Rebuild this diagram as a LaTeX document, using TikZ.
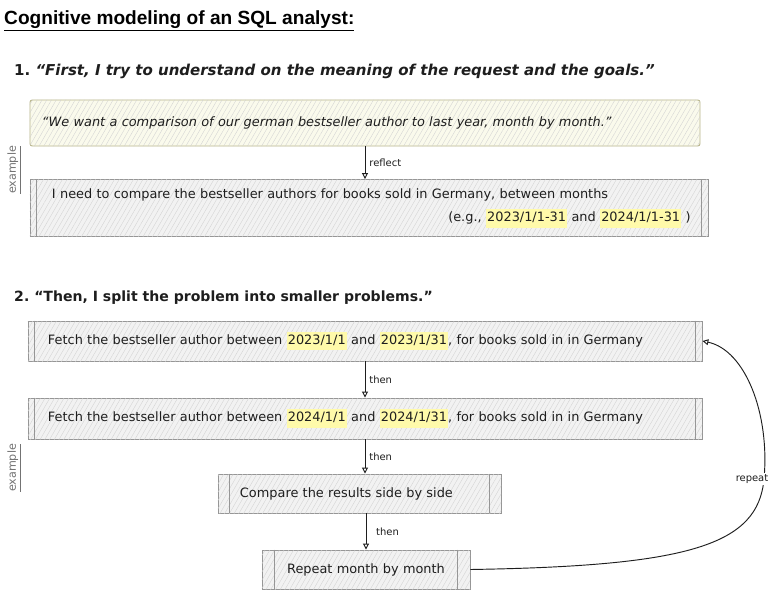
\documentclass[tikz,border=0pt]{standalone}
\usepackage{fontspec}
\setmainfont{DejaVu Sans}
\newfontfamily\titlefont{Liberation Sans}
\usetikzlibrary{positioning,calc,arrows.meta,patterns.meta}
\definecolor{boxgray}{RGB}{242,242,242}
\definecolor{boxcream}{RGB}{250,250,236}
\definecolor{hlyellow}{RGB}{255,250,170}
\definecolor{inkgray}{RGB}{30,30,30}
\definecolor{framegray}{RGB}{150,150,150}
\definecolor{quoteframe}{RGB}{185,182,140}
\newcommand{\hlt}[1]{{\setlength{\fboxsep}{1pt}\colorbox{hlyellow}{\strut #1}}}
\tikzset{
  sketchbox/.style={rectangle, draw=framegray, line width=0.8pt, fill=boxgray, text=inkgray, align=left,
    font=\fontsize{11}{14}\selectfont,
    postaction={pattern={Lines[angle=60,distance=3.5pt,line width=0.3pt]}, pattern color=gray!35}},
  quotebox/.style={sketchbox, draw=quoteframe, fill=boxcream, rounded corners=2pt},
  innerline/.style={draw=framegray, line width=0.6pt},
  arrow/.style={draw=inkgray, line width=0.8pt, -{Triangle[open,length=5pt,width=5pt]}},
  steplabel/.style={font=\fontsize{8.5}{10}\selectfont, text=inkgray},
  sidelabel/.style={rotate=90, font=\fontsize{9.5}{11}\selectfont, text=gray!90!black},
  heading/.style={anchor=west, inner sep=0pt, font=\bfseries\fontsize{12}{14}\selectfont, text=inkgray}
}
\begin{document}
\begin{tikzpicture}[x=0.03cm, y=-0.03cm]
\useasboundingbox (0,0) rectangle (782,591);
\fill[white] (0,0) rectangle (782,591);
% title and step 1
\node (title) at (4,21) [anchor=west, inner sep=0pt, text=black,
  font=\titlefont\bfseries\fontsize{16.3}{19}\selectfont] {\underline{Cognitive modeling of an SQL analyst:}};
\node (h1) at (14,71) [heading, font=\bfseries\fontsize{12.8}{15}\selectfont]
  {1.~\textit{“First, I try to understand on the meaning of the request and the goals.”}};
\node (b1) at (365,123) [quotebox, minimum width=20.1cm, minimum height=1.38cm, text width=19.38cm, inner xsep=0.36cm]
  {\textit{“We want a comparison of our german bestseller author to last year, month by month.”}};
\node (b2) at (369,208) [sketchbox, minimum width=20.34cm, minimum height=1.71cm, text width=19.02cm, inner xsep=0.66cm]
  {I need to compare the bestseller authors for books sold in Germany, between months\\[6pt]
   \hspace*{\fill}(e.g., \hlt{2023/1/1-31} and \hlt{2024/1/1-31} )\hspace*{-4pt}};
\draw[arrow] (b1.south) -- (b1.south |- b2.north) node[midway, right, steplabel] {reflect};
\node (ex1) at (14,170) [sidelabel] {\underline{example}};
% step 2
\node (h2) at (14,298) [heading] {2.~“Then, I split the problem into smaller problems.”};
\node (b3) at (365,341) [sketchbox, minimum width=20.22cm, minimum height=1.2cm, text width=19.02cm, inner xsep=0.6cm]
  {Fetch the bestseller author between \hlt{2023/1/1} and \hlt{2023/1/31}, for books sold in in Germany};
\node (b4) at (365,418.5) [sketchbox, minimum width=20.22cm, minimum height=1.23cm, text width=19.02cm, inner xsep=0.6cm]
  {Fetch the bestseller author between \hlt{2024/1/1} and \hlt{2024/1/31}, for books sold in in Germany};
\node (b5) at (359.5,493.5) [sketchbox, minimum width=8.49cm, minimum height=1.17cm, text width=7.17cm, inner xsep=0.66cm]
  {Compare the results side by side};
\node (b6) at (366,569.5) [sketchbox, minimum width=6.24cm, minimum height=1.17cm, text width=5.04cm, inner xsep=0.6cm, align=center]
  {Repeat month by month};
\node (ex2) at (14,468) [sidelabel] {\underline{example}};
\foreach \n/\d in {b2/7,b3/7,b4/7,b5/12,b6/13}{
  \draw[innerline] ([xshift=\d*0.03cm]\n.north west) -- ([xshift=\d*0.03cm]\n.south west);
  \draw[innerline] ([xshift=-\d*0.03cm]\n.north east) -- ([xshift=-\d*0.03cm]\n.south east);
}
\draw[arrow] (b3.south) -- (b3.south |- b4.north) node[midway, right, steplabel] {then};
\draw[arrow] (b4.south) -- (b4.south |- b5.north) node[midway, right, steplabel] {then};
\draw[arrow] (b6.north |- b5.south) -- (b6.north) node[midway, right, xshift=5pt, steplabel] {then};
% loop back
\coordinate (rp) at (764,479);
\draw[arrow] (b6.east) .. controls (690,566) and (758,545) .. (rp) .. controls (770,413) and (745,350) .. (b3.east);
\node (rl) at (752,479) [steplabel, fill=white, inner sep=1pt] {repeat};
\end{tikzpicture}
\end{document}
